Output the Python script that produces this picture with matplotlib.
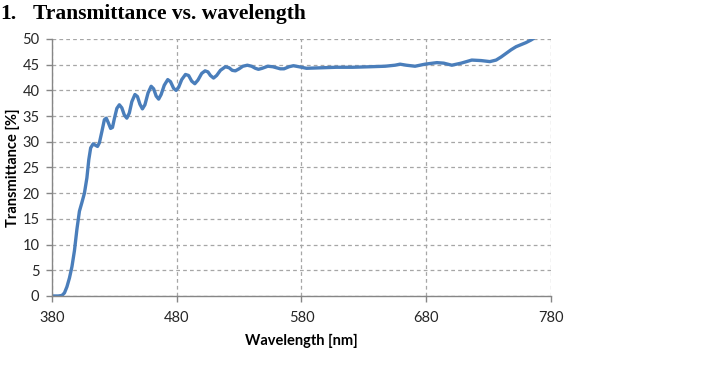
import matplotlib
matplotlib.use("Agg")
import matplotlib.pyplot as plt

# ---------- data ----------

wavelength_nm = [
    380, 385, 388, 390, 392, 394, 396, 398, 400, 402, 404, 406, 408, 409.5,
    411, 413, 415, 416.5, 418, 420, 422, 423.5, 425, 427, 428.5, 430, 432,
    434, 436, 438, 440, 442, 444, 446.5, 448.5, 450.5, 452.5, 454.5, 457,
    459.5, 461.5, 463.5, 465.5, 467.5, 470, 472.8, 475, 477.5, 479.5, 481.5,
    484, 487, 489.5, 492, 494.5, 497, 500, 502.7, 505, 507, 509.5, 512, 515,
    519, 522, 524.5, 527, 530, 533, 536.6, 540, 543, 545.5, 548.5, 553, 557,
    560, 563, 566, 570, 573.5, 578, 584, 596, 608, 621, 635, 647, 655, 659,
    664, 671, 679, 688.5, 694, 700.5, 708, 716.5, 724, 731, 736, 740, 744,
    748, 752, 756, 760, 764, 766,
]
transmittance_pct = [
    0.0, 0.0, 0.1, 0.6, 1.8, 3.5, 5.7, 8.8, 13.0, 16.5, 18.2, 20.0, 23.0, 26.5,
    28.8, 29.6, 29.3, 29.1, 29.8, 32.0, 34.3, 34.6, 33.8, 32.6, 32.8, 34.5, 36.5,
    37.2, 36.6, 35.2, 34.6, 35.6, 37.8, 39.2, 38.8, 37.3, 36.4, 37.2, 39.5,
    40.8, 40.3, 38.9, 38.3, 39.2, 41.0, 42.1, 41.7, 40.4, 40.0, 40.6,
    42.1, 43.1, 42.9, 41.8, 41.3, 42.0, 43.3, 43.8, 43.6, 42.9, 42.4, 42.9, 43.9,
    44.6, 44.4, 43.9, 43.8, 44.2, 44.7, 44.9, 44.7, 44.3, 44.1, 44.3, 44.7, 44.6,
    44.4, 44.2, 44.2, 44.6, 44.8, 44.6, 44.3, 44.4, 44.5, 44.5, 44.6, 44.7, 44.9, 45.1,
    44.9, 44.7, 45.1, 45.4, 45.3, 44.9, 45.3, 45.9, 45.8, 45.6, 45.9, 46.5, 47.2,
    47.9, 48.5, 48.9, 49.3, 49.8, 50.1,
]

x_ticks = [380, 480, 580, 680, 780]
y_ticks = [0, 5, 10, 15, 20, 25, 30, 35, 40, 45, 50]

title_num = "1."
title = "Transmittance vs. wavelength"
x_label = "Wavelength [nm]"
y_label = "Transmittance [%]"

# ---------- style ----------

LINE = "#4a7ebb"
AXIS = "#868686"
GRID = "#a6a6a6"
SANS = ["Lato", "DejaVu Sans"]
SERIF = ["Liberation Serif", "DejaVu Serif"]

fig = plt.figure(figsize=(7.25, 3.71), dpi=100)
ax = fig.add_axes([0.0717, 0.2022, 0.760 - 0.0717, 0.8949 - 0.2022])

ax.plot(wavelength_nm, transmittance_pct, color=LINE, lw=2.4,
        solid_capstyle="round", solid_joinstyle="round")

ax.set_xlim(380, 780)
ax.set_ylim(0, 50)
ax.set_xticks(x_ticks)
ax.set_yticks(y_ticks)
ax.set_xticklabels([str(v) for v in x_ticks], family=SANS, fontsize=10.5)
ax.set_yticklabels([str(v) for v in y_ticks], family=SANS, fontsize=10.5)

ax.grid(True, color=GRID, ls=(0, (3, 2.5)), lw=0.9)
ax.set_axisbelow(True)

for side in ("top", "right"):
    ax.spines[side].set_visible(False)
for side in ("left", "bottom"):
    ax.spines[side].set_color(AXIS)
    ax.spines[side].set_linewidth(1.0)
ax.tick_params(axis="both", colors=AXIS, length=4, width=1.0, labelcolor="#262626")
ax.tick_params(axis="x", pad=7)
ax.tick_params(axis="y", pad=5)

ax.set_xlabel(x_label, family=SANS, fontsize=10.5, fontweight="bold", labelpad=6)
ax.set_ylabel(y_label, family=SANS, fontsize=10.5, fontweight="bold", labelpad=2)

fig.text(0.0, 0.962, title_num, family=SERIF, fontsize=15.5, fontweight="bold",
         va="center", ha="left")
fig.text(33 / 725, 0.962, title, family=SERIF, fontsize=15.5, fontweight="bold",
         va="center", ha="left")

fig.savefig("out.png", dpi=100)
